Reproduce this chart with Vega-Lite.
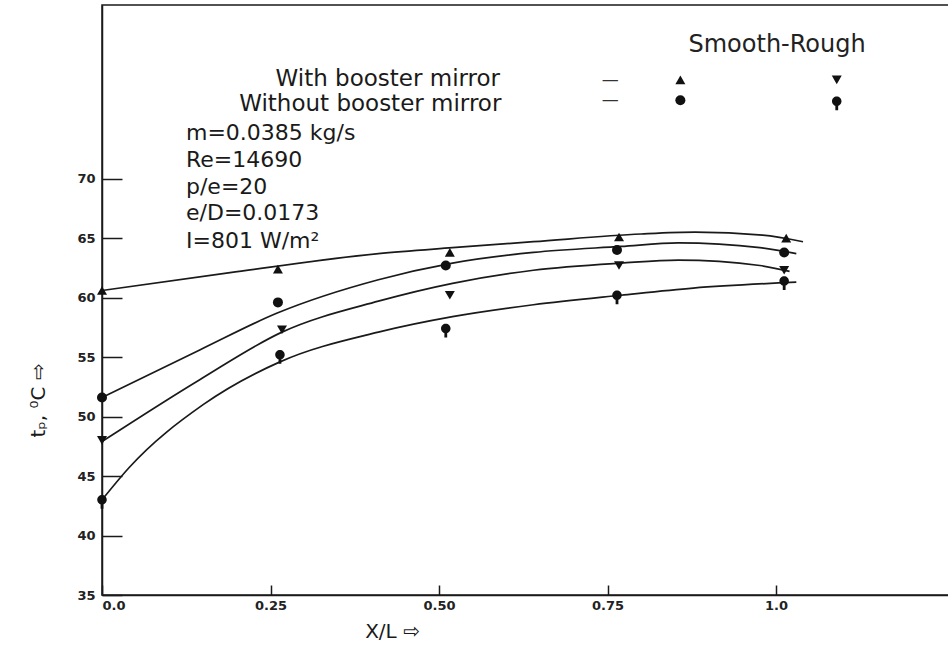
{
  "$schema": "https://vega.github.io/schema/vega-lite/v6.json",
  "width": 848,
  "height": 590,
  "autosize": {"type": "none"},
  "padding": {"left": 102, "top": 5, "right": 0, "bottom": 55},
  "background": "white",
  "config": {
    "view": {"stroke": "#1a1a1a", "strokeWidth": 1.5},
    "font": "DejaVu Sans"
  },
  "datasets": {
    "curves": [
      {"series": "A", "xl": 0.0, "t": 60.6},
      {"series": "A", "xl": 0.19, "t": 62.1},
      {"series": "A", "xl": 0.41, "t": 63.7},
      {"series": "A", "xl": 0.52, "t": 64.2},
      {"series": "A", "xl": 0.64, "t": 64.7},
      {"series": "A", "xl": 0.8, "t": 65.35},
      {"series": "A", "xl": 0.88, "t": 65.5},
      {"series": "A", "xl": 0.98, "t": 65.25},
      {"series": "A", "xl": 1.04, "t": 64.7},
      {"series": "B", "xl": 0.0, "t": 51.6},
      {"series": "B", "xl": 0.145, "t": 55.6},
      {"series": "B", "xl": 0.26, "t": 58.7},
      {"series": "B", "xl": 0.41, "t": 61.5},
      {"series": "B", "xl": 0.52, "t": 62.9},
      {"series": "B", "xl": 0.64, "t": 63.8},
      {"series": "B", "xl": 0.77, "t": 64.3},
      {"series": "B", "xl": 0.855, "t": 64.6},
      {"series": "B", "xl": 0.976, "t": 64.2},
      {"series": "B", "xl": 1.03, "t": 63.7},
      {"series": "C", "xl": 0.0, "t": 47.9},
      {"series": "C", "xl": 0.145, "t": 53.1},
      {"series": "C", "xl": 0.267, "t": 57.1},
      {"series": "C", "xl": 0.41, "t": 59.7},
      {"series": "C", "xl": 0.52, "t": 61.2},
      {"series": "C", "xl": 0.64, "t": 62.3},
      {"series": "C", "xl": 0.77, "t": 62.9},
      {"series": "C", "xl": 0.855, "t": 63.15},
      {"series": "C", "xl": 0.976, "t": 62.7},
      {"series": "C", "xl": 1.02, "t": 62.2},
      {"series": "D", "xl": 0.0, "t": 43.0},
      {"series": "D", "xl": 0.04, "t": 45.7},
      {"series": "D", "xl": 0.15, "t": 51.0},
      {"series": "D", "xl": 0.264, "t": 54.6},
      {"series": "D", "xl": 0.41, "t": 57.1},
      {"series": "D", "xl": 0.52, "t": 58.4},
      {"series": "D", "xl": 0.64, "t": 59.4},
      {"series": "D", "xl": 0.77, "t": 60.2},
      {"series": "D", "xl": 0.877, "t": 60.8},
      {"series": "D", "xl": 1.03, "t": 61.3}
    ],
    "points": [
      {"series": "Smooth, with mirror", "xl": 0.0, "t": 60.6},
      {"series": "Smooth, with mirror", "xl": 0.261, "t": 62.4},
      {"series": "Smooth, with mirror", "xl": 0.516, "t": 63.8},
      {"series": "Smooth, with mirror", "xl": 0.767, "t": 65.1},
      {"series": "Smooth, with mirror", "xl": 1.015, "t": 65.0},
      {"series": "Smooth, without mirror", "xl": 0.0, "t": 51.6},
      {"series": "Smooth, without mirror", "xl": 0.261, "t": 59.6},
      {"series": "Smooth, without mirror", "xl": 0.51, "t": 62.7},
      {"series": "Smooth, without mirror", "xl": 0.764, "t": 64.0},
      {"series": "Smooth, without mirror", "xl": 1.012, "t": 63.8},
      {"series": "Rough, with mirror", "xl": 0.0, "t": 48.0},
      {"series": "Rough, with mirror", "xl": 0.267, "t": 57.3},
      {"series": "Rough, with mirror", "xl": 0.516, "t": 60.2},
      {"series": "Rough, with mirror", "xl": 0.767, "t": 62.7},
      {"series": "Rough, with mirror", "xl": 1.012, "t": 62.3},
      {"series": "Rough, without mirror", "xl": 0.0, "t": 43.0},
      {"series": "Rough, without mirror", "xl": 0.264, "t": 55.2},
      {"series": "Rough, without mirror", "xl": 0.51, "t": 57.4},
      {"series": "Rough, without mirror", "xl": 0.764, "t": 60.2},
      {"series": "Rough, without mirror", "xl": 1.012, "t": 61.4}
    ],
    "legendmarks": [
      {"series": "Smooth, with mirror", "xl": 0.858, "t": 78.3},
      {"series": "Rough, with mirror", "xl": 1.09, "t": 78.3},
      {"series": "Smooth, without mirror", "xl": 0.858, "t": 76.6},
      {"series": "Rough, without mirror", "xl": 1.09, "t": 76.5}
    ],
    "texts": [
      {"kind": "head", "xl": 1.0015, "t": 81.2, "label": "Smooth-Rough"},
      {"kind": "mirror", "xl": 0.424, "t": 78.4, "label": "With booster mirror"},
      {"kind": "mirror", "xl": 0.398, "t": 76.3, "label": "Without booster mirror"},
      {"kind": "dash", "xl": 0.754, "t": 78.3, "label": "—"},
      {"kind": "dash", "xl": 0.754, "t": 76.6, "label": "—"},
      {"kind": "param", "xl": 0.1246, "t": 73.8, "label": "m=0.0385 kg/s"},
      {"kind": "param", "xl": 0.1246, "t": 71.55, "label": "Re=14690"},
      {"kind": "param", "xl": 0.1246, "t": 69.3, "label": "p/e=20"},
      {"kind": "param", "xl": 0.1246, "t": 67.1, "label": "e/D=0.0173"},
      {"kind": "param", "xl": 0.1246, "t": 64.8, "label": "I=801 W/m²"}
    ]
  },
  "layer": [
    {
      "data": {"name": "curves"},
      "mark": {"type": "line", "interpolate": "monotone", "color": "#1a1a1a", "strokeWidth": 1.7},
      "encoding": {
        "x": {
          "field": "xl", "type": "quantitative",
          "scale": {"domain": [0, 1.258], "nice": false, "zero": false},
          "axis": {
            "title": "X/L ⇨",
            "values": [0, 0.25, 0.5, 0.75, 1.0],
            "labelExpr": "datum.value == 0 ? '0.0' : datum.value == 1 ? '1.0' : format(datum.value, '.2f')",
            "grid": false,
            "domainColor": "#1a1a1a", "domainWidth": 1.5,
            "tickColor": "#1a1a1a", "tickWidth": 1.5, "tickSize": -10,
            "labelPadding": 14, "labelFontSize": 13, "labelFontWeight": "bold", "labelColor": "#222",
            "titleFontSize": 20, "titleFontWeight": "normal", "titleColor": "#1a1a1a",
            "titleX": 290, "titleY": 36, "titleBaseline": "middle"
          }
        },
        "y": {
          "field": "t", "type": "quantitative",
          "scale": {"domain": [35, 84.6], "nice": false, "zero": false},
          "axis": {
            "title": "tₚ, ⁰C ⇨",
            "values": [35, 40, 45, 50, 55, 60, 65, 70],
            "grid": false,
            "domainColor": "#1a1a1a", "domainWidth": 1.5,
            "tickColor": "#1a1a1a", "tickWidth": 1.5, "tickSize": -20,
            "labelPadding": 27, "labelFontSize": 13, "labelFontWeight": "bold", "labelColor": "#222",
            "titleFontSize": 20, "titleFontWeight": "normal", "titleColor": "#1a1a1a",
            "titleX": -64, "titleY": 395, "titleBaseline": "middle"
          }
        },
        "detail": {"field": "series", "type": "nominal"}
      }
    },
    {
      "data": {"name": "points"},
      "mark": {"type": "point", "filled": true, "opacity": 1, "color": "#111", "size": 100},
      "encoding": {
        "x": {"field": "xl", "type": "quantitative"},
        "y": {"field": "t", "type": "quantitative"},
        "shape": {
          "field": "series", "type": "nominal", "legend": null,
          "scale": {
            "domain": ["Smooth, with mirror", "Rough, with mirror", "Smooth, without mirror", "Rough, without mirror"],
            "range": ["triangle-up", "triangle-down", "circle", "M0,-0.95A0.95,0.95,0,1,1,0,0.95A0.95,0.95,0,1,1,0,-0.95Z M-0.28,0.7L0.28,0.7L0.28,1.8L-0.28,1.8Z"]
          }
        }
      }
    },
    {
      "data": {"name": "legendmarks"},
      "mark": {"type": "point", "filled": true, "opacity": 1, "color": "#111", "size": 100},
      "encoding": {
        "x": {"field": "xl", "type": "quantitative"},
        "y": {"field": "t", "type": "quantitative"},
        "shape": {"field": "series", "type": "nominal", "legend": null}
      }
    },
    {
      "data": {"name": "texts"},
      "transform": [{"filter": "datum.kind == 'head'"}],
      "mark": {"type": "text", "fontSize": 24, "align": "center", "baseline": "middle", "color": "#222"},
      "encoding": {
        "x": {"field": "xl", "type": "quantitative"},
        "y": {"field": "t", "type": "quantitative"},
        "text": {"field": "label"}
      }
    },
    {
      "data": {"name": "texts"},
      "transform": [{"filter": "datum.kind == 'mirror'"}],
      "mark": {"type": "text", "fontSize": 23, "align": "center", "baseline": "middle", "color": "#1a1a1a"},
      "encoding": {
        "x": {"field": "xl", "type": "quantitative"},
        "y": {"field": "t", "type": "quantitative"},
        "text": {"field": "label"}
      }
    },
    {
      "data": {"name": "texts"},
      "transform": [{"filter": "datum.kind == 'dash'"}],
      "mark": {"type": "text", "fontSize": 17, "align": "center", "baseline": "middle", "color": "#333"},
      "encoding": {
        "x": {"field": "xl", "type": "quantitative"},
        "y": {"field": "t", "type": "quantitative"},
        "text": {"field": "label"}
      }
    },
    {
      "data": {"name": "texts"},
      "transform": [{"filter": "datum.kind == 'param'"}],
      "mark": {"type": "text", "fontSize": 22, "align": "left", "baseline": "middle", "color": "#1a1a1a"},
      "encoding": {
        "x": {"field": "xl", "type": "quantitative"},
        "y": {"field": "t", "type": "quantitative"},
        "text": {"field": "label"}
      }
    }
  ]
}
